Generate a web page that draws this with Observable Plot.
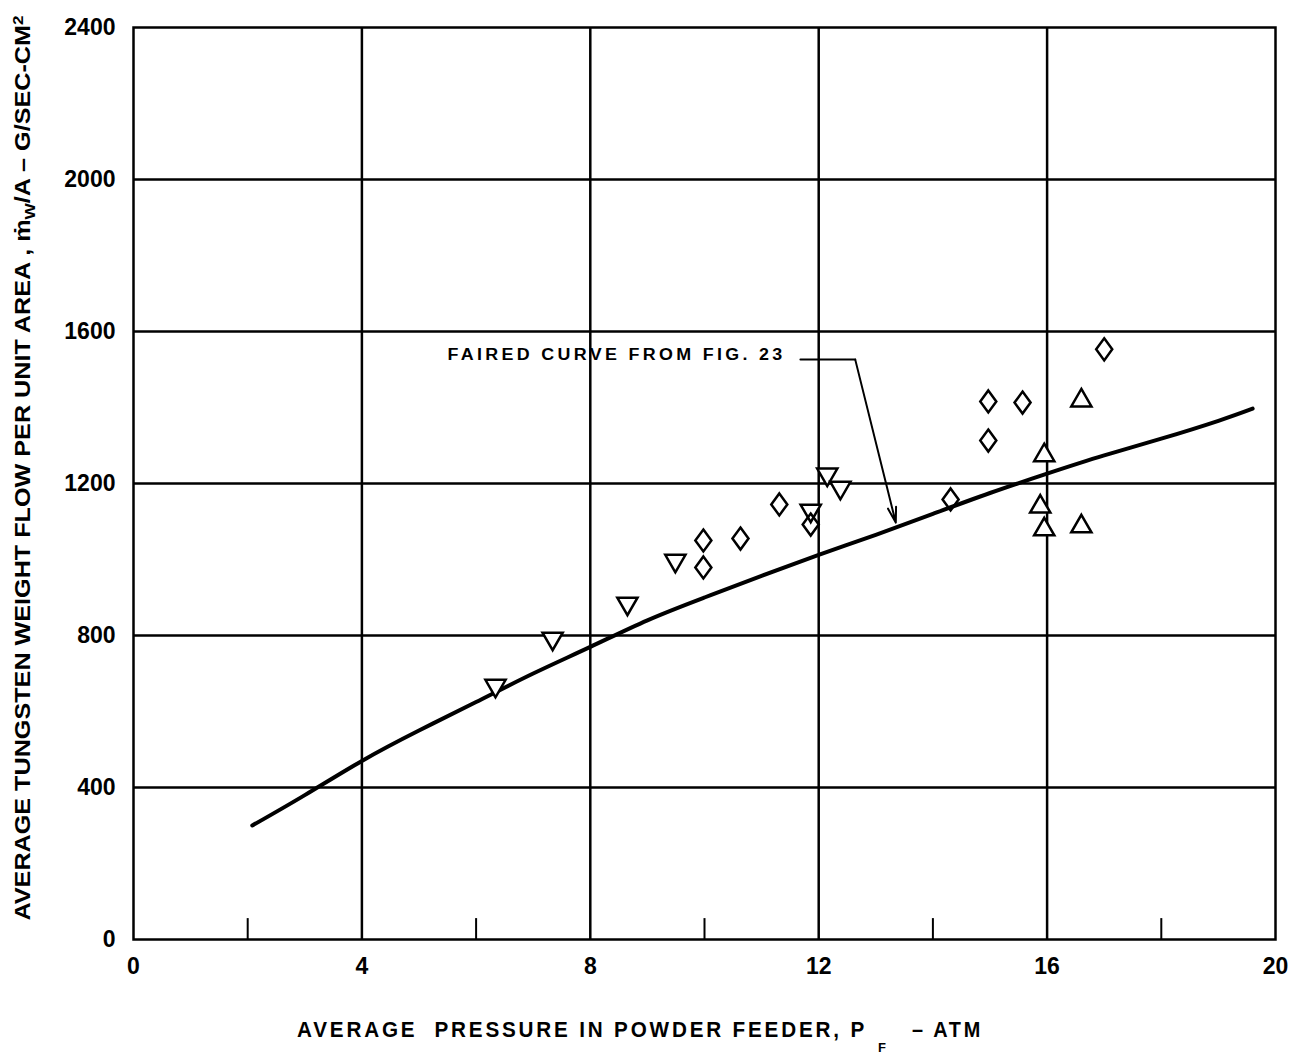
<!DOCTYPE html>
<html><head><meta charset="utf-8">
<script src="https://cdn.jsdelivr.net/npm/d3@7"></script>
<script src="https://cdn.jsdelivr.net/npm/@observablehq/plot@0.6"></script>
<style>body{margin:0;background:#fff}</style>
</head><body><div id="chart"></div>
<script>
// Data
const xTicks = [0, 4, 8, 12, 16, 20];
const yTicks = [0, 400, 800, 1200, 1600, 2000, 2400];
const xGrid = [4, 8, 12, 16];
const yGrid = [400, 800, 1200, 1600, 2000];
const xMinor = [2, 6, 10, 14, 18];

const downTriX = [6.34, 7.34, 8.65, 9.49, 11.86, 12.15, 12.38];
const downTriY = [668, 792, 884, 997, 1129, 1224, 1189];

const diamondX = [9.98, 9.98, 10.63, 11.31, 11.86, 14.31, 14.97, 14.97, 15.57, 17.0];
const diamondY = [1050, 979, 1055, 1145, 1092, 1158, 1313, 1416, 1413, 1553];

const upTriX = [15.95, 15.88, 15.95, 16.6, 16.6];
const upTriY = [1274, 1139, 1079, 1418, 1087];

const curveX = [2.08, 3, 4, 5, 6, 7, 8, 9, 10, 11, 12, 13, 14, 15, 16, 17, 18, 19, 19.6];
const curveY = [300, 380, 470, 550, 625, 700, 770, 840, 900, 957, 1012, 1065, 1120, 1175, 1226, 1274, 1318, 1365, 1397];

const noteText = "FAIRED CURVE FROM FIG. 23";
const noteX = 5.5, noteY = 1538;
const leaderX = [11.68, 12.64];
const leaderY = [1526, 1526];
const arrowEnd = {x1: 12.64, y1: 1526, x2: 13.35, y2: 1097};

const zip = (xs, ys) => xs.map((x, i) => ({x, y: ys[i]}));

// diamond taller than wide, as drawn in the figure
const tallDiamond = {
  draw(ctx, size) {
    const h = Math.sqrt(size / 1.46), w = h * 0.73;
    ctx.moveTo(0, -h); ctx.lineTo(w, 0); ctx.lineTo(0, h); ctx.lineTo(-w, 0); ctx.closePath();
  }
};

const plot = Plot.plot({
  width: 1305,
  height: 1057,
  marginLeft: 133,
  marginRight: 30,
  marginTop: 27,
  marginBottom: 118,
  style: {fontFamily: "'Liberation Sans', sans-serif", background: "#fff", color: "#000", fontSize: "23px"},
  x: {domain: [0, 20], ticks: xTicks},
  y: {domain: [0, 2400], ticks: yTicks},
  marks: [
    Plot.ruleX(xGrid, {stroke: "#000", strokeWidth: 2.5}),
    Plot.ruleY(yGrid, {stroke: "#000", strokeWidth: 2.5}),
    Plot.ruleX(xMinor, {y1: 0, y2: 55, stroke: "#000", strokeWidth: 2}),
    Plot.frame({stroke: "#000", strokeWidth: 2.5}),
    Plot.axisX({ticks: xTicks, tickFormat: d => String(d), tickSize: 0, tickPadding: 18, fontWeight: "bold", label: null}),
    Plot.axisY({ticks: yTicks, tickFormat: d => String(d), tickSize: 0, tickPadding: 18, fontWeight: "bold", label: null}),
    Plot.line(zip(curveX, curveY), {x: "x", y: "y", curve: "natural", stroke: "#000", strokeWidth: 4}),
    Plot.dot(zip(downTriX, downTriY), {x: "x", y: "y", symbol: "triangle", rotate: 180, r: 7.5, stroke: "#000", strokeWidth: 2.5, fill: "#fff"}),
    Plot.dot(zip(diamondX, diamondY), {x: "x", y: "y", symbol: tallDiamond, r: 7.5, stroke: "#000", strokeWidth: 2.5, fill: "none"}),
    Plot.dot(zip(upTriX, upTriY), {x: "x", y: "y", symbol: "triangle", r: 7.5, stroke: "#000", strokeWidth: 2.5, fill: "#fff"}),
    Plot.text([noteText], {x: noteX, y: noteY, text: d => d, textAnchor: "start", fontSize: 16, fontWeight: "bold", fill: "#000"}),
    Plot.line(zip(leaderX, leaderY), {x: "x", y: "y", stroke: "#000", strokeWidth: 2}),
    Plot.arrow([arrowEnd], {x1: "x1", y1: "y1", x2: "x2", y2: "y2", stroke: "#000", strokeWidth: 2, headLength: 12, headAngle: 30})
  ]
});

const svg = d3.select(plot);
svg.selectAll("text").filter(function(){return this.textContent === noteText;})
  .attr("letter-spacing", "3px").attr("textLength", 338).attr("lengthAdjust", "spacingAndGlyphs");

// y-axis label
const yl = svg.append("text")
  .attr("transform", "translate(30,468) rotate(-90)")
  .attr("text-anchor", "middle")
  .attr("font-family", "'Liberation Sans Narrow', 'Liberation Sans', sans-serif")
  .attr("font-weight", "bold")
  .attr("font-size", 22)
  .attr("fill", "#000")
  .attr("textLength", 905)
  .attr("lengthAdjust", "spacingAndGlyphs");
yl.append("tspan").text("AVERAGE TUNGSTEN WEIGHT FLOW PER UNIT AREA , \u1E41");
yl.append("tspan").attr("baseline-shift", "-30%").attr("font-size", 15).text("W");
yl.append("tspan").text("/A \u2013 G/SEC-CM");
yl.append("tspan").attr("baseline-shift", "45%").attr("font-size", 15).text("2");

// x-axis label (three pieces: main text, subscript F, units)
const xlAttrs = sel => sel
  .attr("text-anchor", "start")
  .attr("font-family", "'Liberation Sans', sans-serif")
  .attr("font-weight", "bold")
  .attr("fill", "#000")
  .attr("lengthAdjust", "spacingAndGlyphs")
  .style("white-space", "pre");
svg.append("text").call(xlAttrs)
  .attr("x", 297).attr("y", 1037).attr("font-size", 22)
  .attr("letter-spacing", "3px")
  .attr("textLength", 570)
  .text("AVERAGE  PRESSURE IN POWDER FEEDER, P");
svg.append("text").call(xlAttrs)
  .attr("x", 878).attr("y", 1052).attr("font-size", 13)
  .text("F");
svg.append("text").call(xlAttrs)
  .attr("x", 912).attr("y", 1037).attr("font-size", 22)
  .attr("letter-spacing", "3px")
  .attr("textLength", 71)
  .text("\u2013 ATM");

document.getElementById("chart").appendChild(plot);
</script>
</body></html>
